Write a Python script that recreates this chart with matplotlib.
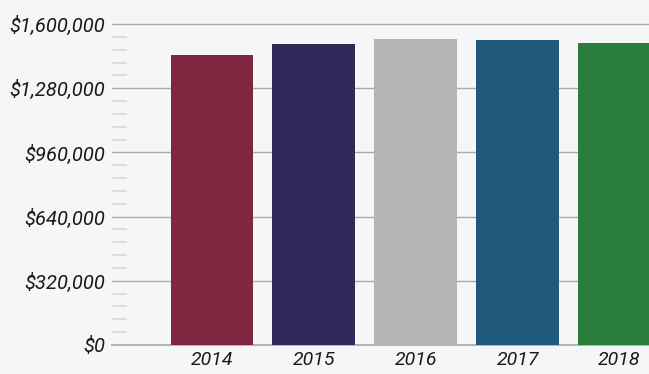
import numpy as np
import matplotlib.pyplot as plt
from matplotlib.ticker import FixedLocator, FuncFormatter

# data
years  = ['2014', '2015', '2016', '2017', '2018']
totals = [1445000, 1500000, 1525000, 1520000, 1505000]
colors = ['#7f2640', '#33285a', '#b4b4b4', '#1f5a7c', '#2b7d3c']
yticks = [0, 320000, 640000, 960000, 1280000, 1600000]

plt.rcParams['font.family'] = ['Roboto', 'DejaVu Sans']

fig = plt.figure(figsize=(6.49, 3.74), dpi=100)
fig.patch.set_facecolor('#f5f6f7')
ax = fig.add_axes([112/649, 29/374, 537/649, 341/374])
ax.set_facecolor('#f5f6f7')

x = np.arange(len(years))
ax.bar(x, totals, width=0.81, color=colors, zorder=3)
ax.axhline(0, color='#a9a9a9', lw=1.2, zorder=2, clip_on=False)

ax.set_xlim(-0.98, 4.29)
ax.set_ylim(0, 1700000)

ax.set_yticks(yticks)
ax.yaxis.set_minor_locator(FixedLocator(np.arange(0, 1600001, 64000)))
ax.yaxis.set_major_formatter(FuncFormatter(lambda v, p: '${:,.0f}'.format(v)))
ax.grid(axis='y', which='major', color='#a9a9a9', lw=1.0, zorder=1)

ax.set_xticks(x)
ax.set_xticklabels(years)

for s in ax.spines.values():
    s.set_visible(False)

ax.tick_params(axis='y', which='major', length=0, pad=5, labelsize=14.5)
ax.tick_params(axis='y', which='minor', direction='in', length=11,
               width=1.3, color='#dcdcd4')
ax.tick_params(axis='x', length=0, pad=4, labelsize=14)
for lab in ax.get_xticklabels() + ax.get_yticklabels():
    lab.set_fontstyle('italic')
    lab.set_color('#1a1a1a')

fig.savefig('out.png', dpi=100, facecolor=fig.get_facecolor())
